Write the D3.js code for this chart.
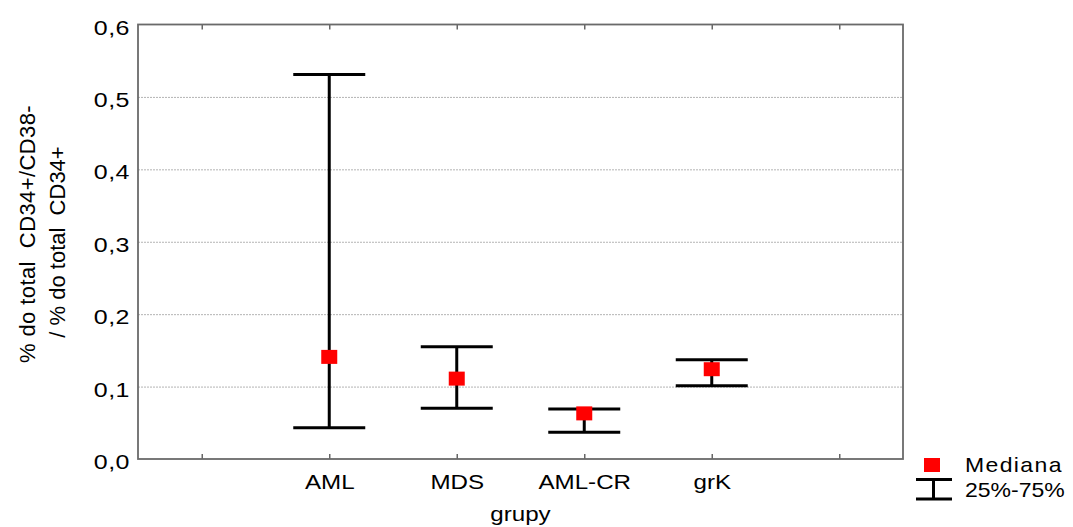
<!DOCTYPE html>
<html><head><meta charset="utf-8">
<script src="https://cdn.jsdelivr.net/npm/d3@7"></script>
<style>
body{margin:0;background:#fff}
svg{display:block}
text{font-family:"Liberation Sans",Arial,sans-serif;fill:#000}
</style>
</head><body><svg id="c" width="1073" height="527"></svg>
<script>
// ---- data ----
const categories = ["AML", "MDS", "AML-CR", "grK"];
const medians = [0.141, 0.111, 0.063, 0.124];
const q1 = [0.043, 0.070, 0.037, 0.101];
const q3 = [0.531, 0.155, 0.069, 0.137];
const yTicks = [0, 0.1, 0.2, 0.3, 0.4, 0.5, 0.6];
const gridTicks = [0.1, 0.2, 0.3, 0.4, 0.5];
const xSlots = [0, 1, 2, 3, 4, 5];           // tick slots; categories sit in slots 1..4
const yTitle = ["% do total  CD34+/CD38-", "/ % do total  CD34+"];
const xTitle = "grupy";
const legendLabels = ["Mediana", "25%-75%"];

// ---- layout ----
const L = 138, R = 903, T = 24.5, B = 459;
const FF = '"Liberation Sans",Arial,sans-serif';
const svg = d3.select("#c");
const x = d3.scaleLinear().domain([-0.5, 5.5]).range([L, R]);
const y = d3.scaleLinear().domain([0, 0.6]).range([B, T]);
const data = categories.map((c, i) => ({c, slot: i + 1, m: medians[i], lo: q1[i], hi: q3[i]}));
const fmt = d => d3.format(".1f")(d).replace(".", ",");

// grid
svg.append("g").attr("transform", `translate(${L},0)`)
  .call(d3.axisLeft(y).tickValues(gridTicks).tickSize(-(R - L)).tickFormat(""))
  .call(g => g.select(".domain").remove())
  .call(g => g.selectAll("line").attr("stroke", "#b4b4b4").attr("stroke-width", 1).attr("stroke-dasharray", "2,1"));

// y axis labels
svg.append("g").attr("transform", `translate(${L},0)`)
  .call(d3.axisLeft(y).tickValues(yTicks).tickSize(0).tickFormat(fmt))
  .call(g => g.select(".domain").remove())
  .call(g => g.selectAll("text").attr("font-size", 20).attr("x", 0).attr("dy", 0)
     .attr("transform", "translate(-8,9.5) scale(1.25,1)")
     .style("letter-spacing", "0.4px").style("font-family", FF));

// x axis bottom (ticks inside)
svg.append("g").attr("transform", `translate(0,${B})`)
  .call(d3.axisBottom(x).tickValues(xSlots).tickSizeInner(-5).tickSizeOuter(0)
        .tickFormat(i => categories[i - 1] || ""))
  .call(g => g.select(".domain").remove())
  .call(g => g.selectAll("line").attr("stroke", "#666").attr("stroke-width", 1.5))
  .call(g => g.selectAll("text").attr("font-size", 21).attr("y", 0).attr("dy", 0)
     .attr("transform", "translate(0,30) scale(1.15,1)")
     .style("font-family", FF));

// x axis top (ticks inside)
svg.append("g").attr("transform", `translate(0,${T})`)
  .call(d3.axisTop(x).tickValues(xSlots).tickSizeInner(-5).tickSizeOuter(0).tickFormat(""))
  .call(g => g.select(".domain").remove())
  .call(g => g.selectAll("line").attr("stroke", "#666").attr("stroke-width", 1.5));

// frame
svg.append("rect").attr("x", L).attr("y", T).attr("width", R - L).attr("height", B - T)
  .attr("fill", "none").attr("stroke", "#6a6a6a").attr("stroke-width", 1.8);

// whiskers
const capW = 72;
const wg = svg.append("g").attr("stroke", "#000").attr("stroke-width", 3);
wg.selectAll("line.v").data(data).join("line").attr("class", "v")
  .attr("x1", d => x(d.slot)).attr("x2", d => x(d.slot))
  .attr("y1", d => y(d.lo)).attr("y2", d => y(d.hi));
wg.selectAll("line.hi").data(data).join("line").attr("class", "hi")
  .attr("x1", d => x(d.slot) - capW / 2).attr("x2", d => x(d.slot) + capW / 2)
  .attr("y1", d => y(d.hi)).attr("y2", d => y(d.hi));
wg.selectAll("line.lo").data(data).join("line").attr("class", "lo")
  .attr("x1", d => x(d.slot) - capW / 2).attr("x2", d => x(d.slot) + capW / 2)
  .attr("y1", d => y(d.lo)).attr("y2", d => y(d.lo));

// medians
const mw = 16, mh = 14;
svg.selectAll("rect.med").data(data).join("rect").attr("class", "med")
  .attr("x", d => x(d.slot) - mw / 2).attr("y", d => y(d.m) - mh / 2)
  .attr("width", mw).attr("height", mh).attr("fill", "#ff0000");

// axis titles
svg.append("text").attr("transform", `translate(${(L + R) / 2},521) scale(1.15,1)`)
  .attr("text-anchor", "middle").attr("font-size", 21).text(xTitle);
const yt = svg.append("g");
yt.selectAll("text").data(yTitle).join("text")
  .attr("transform", (d, i) => `translate(${i ? 65 : 35},${i ? 242 : 234}) rotate(-90)`)
  .attr("text-anchor", "middle").attr("font-size", 22)
  .style("letter-spacing", (d, i) => i ? "0px" : "0.4px").style("white-space", "pre").text(d => d);

// legend
const lg = svg.append("g");
lg.append("rect").attr("x", 924).attr("y", 458).attr("width", mw).attr("height", mh).attr("fill", "#ff0000");
lg.append("line").attr("x1", 916).attr("x2", 952).attr("y1", 479.5).attr("y2", 479.5).attr("stroke", "#000").attr("stroke-width", 3);
lg.append("line").attr("x1", 916).attr("x2", 952).attr("y1", 499).attr("y2", 499).attr("stroke", "#000").attr("stroke-width", 3);
lg.append("line").attr("x1", 933.5).attr("x2", 933.5).attr("y1", 479.5).attr("y2", 499).attr("stroke", "#000").attr("stroke-width", 3);
lg.selectAll("text.lt").data(legendLabels).join("text").attr("class", "lt")
  .attr("transform", (d, i) => `translate(965,${i ? 496.5 : 471.5}) scale(1.15,1)`)
  .attr("font-size", 20).style("letter-spacing", (d, i) => i ? "0px" : "1.2px").text(d => d);
</script>
</body></html>
